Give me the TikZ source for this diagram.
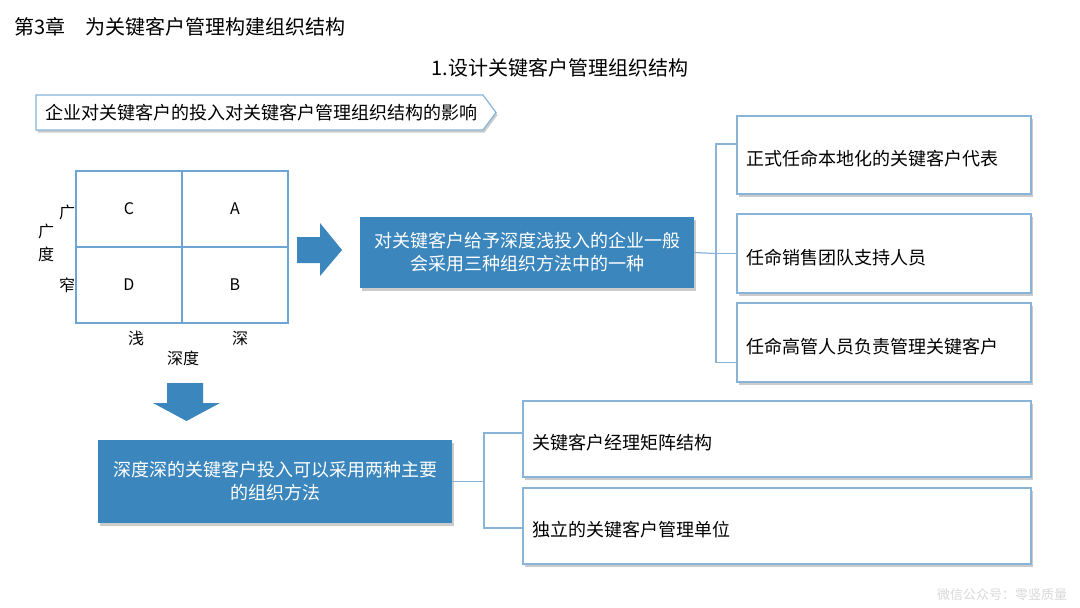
\documentclass[tikz,border=0pt]{standalone}
\usepackage{fontspec}
\setmainfont{Noto Sans CJK SC}
\usetikzlibrary{shadows}
\definecolor{keyblue}{RGB}{58,134,189}
\definecolor{lineblue}{RGB}{135,180,216}
\definecolor{gridblue}{RGB}{108,164,211}

\begin{document}
\begin{tikzpicture}[x=1pt,y=-1pt,
    soft shadow/.style={drop shadow={shadow xshift=1.5pt,shadow yshift=-2.5pt,fill=black!45,opacity=.45}},
    drop text/.style={execute at begin node={\rule{0pt}{#1}}},
    drop text/.default=23pt,
    main box/.style={draw=lineblue,line width=1.2pt,fill=white,soft shadow,align=left,drop text,
                     inner xsep=9pt,inner ysep=0pt,font=\fontsize{18}{22}\selectfont},
    blue box/.style={fill=keyblue,text=white,soft shadow,align=center,inner sep=0pt,
                     font=\fontsize{18}{23}\selectfont},
    cell/.style={draw=gridblue,line width=1.2pt,minimum width=106pt,minimum height=76pt,
                 inner sep=0pt,font=\fontsize{16}{19}\selectfont},
    axis label/.style={inner sep=0pt,font=\fontsize{16}{23}\selectfont},
    link/.style={draw=lineblue,line width=1.2pt}]

  \fill[white] (0,0) rectangle (1080,608);
  \useasboundingbox (0,0) rectangle (1080,608);

  % headings
  \node[anchor=west,inner sep=0pt,font=\fontsize{20}{24}\selectfont] (title) at (14,27)
    {第3章\quad 为关键客户管理构建组织结构};
  \node[inner sep=0pt,font=\fontsize{20}{24}\selectfont] (subtitle) at (560,68)
    {1.设计关键客户管理组织结构};
  \filldraw[draw=lineblue,line width=1.2pt,fill=white,soft shadow]
    (36,95) -- (483,95) -- (496,112.5) -- (483,130) -- (36,130) -- cycle;
  \node[anchor=west,inner xsep=9pt,inner ysep=0pt,font=\fontsize{18}{22}\selectfont] (banner) at (36,113)
    {企业对关键客户的投入对关键客户管理组织结构的影响};

  % breadth / depth grid
  \node[cell] (C) at (129,209) {C};
  \node[cell] (A) at (235,209) {A};
  \node[cell] (D) at (129,285) {D};
  \node[cell] (B) at (235,285) {B};
  \node[axis label] (wide) at (67,212) {广};
  \node[axis label] (narrow) at (67,285) {窄};
  \node[axis label,align=center] (breadth) at (46,243) {广\\度};
  \node[axis label] (shallow) at (136,338) {浅};
  \node[axis label] (deep) at (240,338) {深};
  \node[axis label] (depth) at (183,358) {深度};

  % block arrows
  \fill[keyblue] (297,237) -- (320,237) -- (320,223) -- (342,250)
                 -- (320,276) -- (320,263) -- (297,263) -- cycle;
  \fill[keyblue] (167,383) -- (203,383) -- (203,403) -- (220,403)
                 -- (186.5,421) -- (153,403) -- (167,403) -- cycle;

  % shallow investment
  \node[blue box,drop text=26pt,minimum width=334pt,minimum height=71pt] (shallowbox) at (527,252.5)
    {对关键客户给予深度浅投入的企业一般\\会采用三种组织方法中的一种};
  \node[main box,text width=276pt,minimum height=78pt] (rep) at (884,155)
    {正式任命本地化的关键客户代表};
  \node[main box,text width=276pt,minimum height=79pt] (team) at (884,253.5)
    {任命销售团队支持人员};
  \node[main box,text width=276pt,minimum height=79pt] (exec) at (884,342.5)
    {任命高管人员负责管理关键客户};

  \coordinate (fork1) at (716,253.5);
  \draw[link] (shallowbox.east) -- (fork1);
  \draw[link] ([yshift=11pt]rep.west) -| (fork1) |- ([yshift=-20pt]exec.west);
  \draw[link] (fork1) -- (team.west);

  % deep investment
  \node[blue box,drop text=32pt,minimum width=354pt,minimum height=83pt] (deepbox) at (275,481.5)
    {深度深的关键客户投入可以采用两种主要\\的组织方法};
  \node[main box,text width=490pt,minimum height=76pt] (matrixorg) at (777,439)
    {关键客户经理矩阵结构};
  \node[main box,text width=490pt,minimum height=76pt] (unit) at (777,526)
    {独立的关键客户管理单位};

  \coordinate (fork2) at (484,481.5);
  \draw[link] (deepbox.east) -- (fork2);
  \draw[link] ([yshift=6pt]matrixorg.west) -| (fork2) |- ([yshift=-2pt]unit.west);

  \node[text=black!15,inner sep=0pt,font=\fontsize{13}{15}\selectfont] (mark) at (1002,595)
    {微信公众号：零竖质量};
\end{tikzpicture}
\end{document}
